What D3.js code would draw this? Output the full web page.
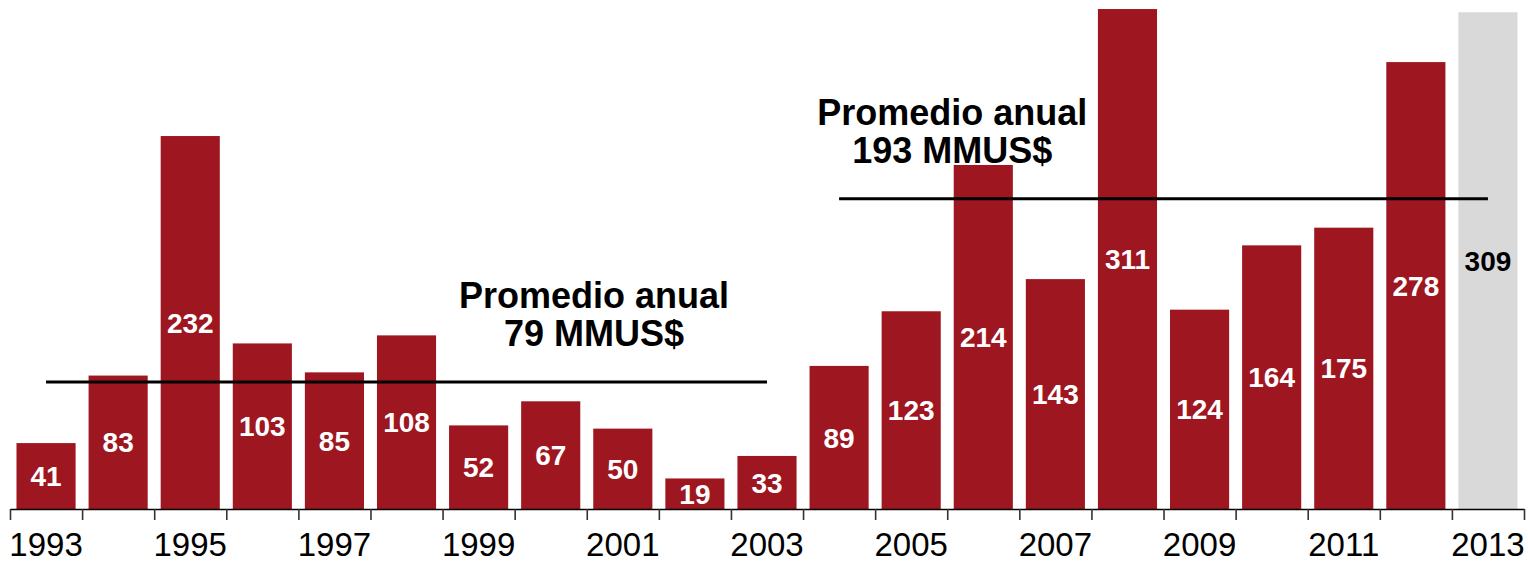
<!DOCTYPE html>
<html>
<head>
<meta charset="utf-8">
<script src="https://cdn.jsdelivr.net/npm/d3@7/dist/d3.min.js"></script>
<style>
  body { margin: 0; background: #fff; }
  svg { display: block; font-family: "Liberation Sans", Arial, sans-serif; }
</style>
</head>
<body>
<svg id="chart" width="1528" height="564"></svg>
<script>
// data
var years = ["1993", "1994", "1995", "1996", "1997", "1998", "1999", "2000", "2001", "2002", "2003",
  "2004", "2005", "2006", "2007", "2008", "2009", "2010", "2011", "2012", "2013"];
var values = [41, 83, 232, 103, 85, 108, 52, 67, 50, 19, 33, 89, 123, 214, 143, 311, 124, 164, 175, 278, 309];
var highlight = ["2013"];
var yearLabels = ["1993", "1995", "1997", "1999", "2001", "2003", "2005", "2007", "2009", "2011", "2013"];
var averages = [
  { from: "1993", to: "2003", value: 79, text: ["Promedio anual", "79 MMUS$"], at: 8.1 },
  { from: "2004", to: "2013", value: 193, text: ["Promedio anual", "193 MMUS$"], at: 13.07 }
];

(function() {
  var svg = d3.select("#chart");
  var left = 10, right = 1524, base = 509;

  var x = d3.scaleBand()
    .domain(years)
    .range([left, right])
    .paddingInner(0.18)
    .paddingOuter(0.09);

  var xi = d3.scaleLinear()
    .domain([0, years.length])
    .range([left, right]);

  var y = d3.scaleLinear()
    .domain([0, 316])
    .range([base, 1]);

  var data = years.map(function(d, i) { return { year: d, value: values[i] }; });

  svg.append("g").selectAll("rect")
    .data(data)
    .enter().append("rect")
    .attr("x", function(d) { return x(d.year); })
    .attr("y", function(d) { return y(d.value); })
    .attr("width", x.bandwidth())
    .attr("height", function(d) { return y(0) - y(d.value); })
    .attr("fill", function(d) { return highlight.indexOf(d.year) >= 0 ? "#d9d9d9" : "#9e1620"; });

  svg.append("g").selectAll("text")
    .data(data)
    .enter().append("text")
    .attr("x", function(d) { return x(d.year) + x.bandwidth() / 2; })
    .attr("y", function(d) { return (y(d.value) + y(0)) / 2; })
    .attr("dy", "0.36em")
    .attr("text-anchor", "middle")
    .attr("font-size", 28)
    .attr("font-weight", "bold")
    .attr("fill", function(d) { return highlight.indexOf(d.year) >= 0 ? "#000" : "#fff"; })
    .text(function(d) { return d.value; });

  // axis with ticks on band boundaries
  var axis = svg.append("g")
    .attr("transform", "translate(0," + base + ")")
    .call(d3.axisBottom(xi)
      .tickValues(d3.range(years.length + 1))
      .tickFormat("")
      .tickSize(11)
      .tickSizeOuter(0));
  axis.select(".domain").attr("stroke", "#000").attr("stroke-width", 1.6);
  axis.selectAll(".tick line").attr("stroke", "#333").attr("stroke-width", 1.6);

  svg.append("g").selectAll("text")
    .data(yearLabels)
    .enter().append("text")
    .attr("x", function(d) { return x(d) + x.bandwidth() / 2; })
    .attr("y", 556)
    .attr("text-anchor", "middle")
    .attr("font-size", 33)
    .attr("fill", "#000")
    .text(function(d) { return d; });

  // average lines and notes
  averages.forEach(function(a) {
    svg.append("line")
      .attr("x1", x(a.from) + x.bandwidth() / 2)
      .attr("x2", x(a.to) + x.bandwidth() / 2)
      .attr("y1", y(a.value))
      .attr("y2", y(a.value))
      .attr("stroke", "#000")
      .attr("stroke-width", 3);

    var t = svg.append("text")
      .attr("text-anchor", "middle")
      .attr("font-size", 36)
      .attr("font-weight", "bold")
      .attr("fill", "#000");
    a.text.forEach(function(s, k) {
      t.append("tspan")
        .attr("x", xi(a.at))
        .attr("y", y(a.value) - 74 + k * 38)
        .text(s);
    });
  });
}());
</script>
</body>
</html>
